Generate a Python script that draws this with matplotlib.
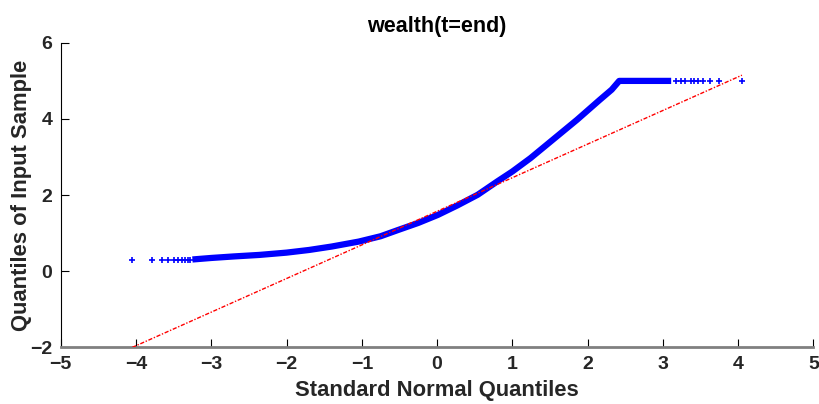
import numpy as np
import matplotlib
matplotlib.use("Agg")
import matplotlib.pyplot as plt

plt.rcParams['font.family'] = ['Liberation Sans', 'DejaVu Sans']
plt.rcParams['font.weight'] = 'bold'

# dense body of the sample quantiles
body_x = [-3.25, -3.0, -2.7, -2.36, -2.0, -1.70, -1.40, -1.04, -0.75, -0.51,
          -0.25, 0.01, 0.27, 0.54, 0.80, 1.0, 1.24, 1.59, 1.86, 2.16, 2.32, 2.42,
          2.7, 3.0, 3.11]
body_y = [0.31, 0.35, 0.39, 0.43, 0.49, 0.56, 0.65, 0.78, 0.92, 1.09,
          1.27, 1.48, 1.73, 2.01, 2.36, 2.62, 2.97, 3.54, 3.98, 4.50, 4.77, 5.0,
          5.0, 5.0, 5.0]

# sparse tail points
low_x = [-4.05, -3.79, -3.66, -3.57, -3.50, -3.44, -3.39, -3.35, -3.31, -3.28]
low_y = [0.29] * len(low_x)
high_x = [3.17, 3.24, 3.30, 3.37, 3.41, 3.47, 3.53, 3.62, 3.75, 4.05]
high_y = [5.0] * len(high_x)

# reference line through the quartiles, extended to the data range
ref_x = [-4.05, 4.05]
ref_y = [-2.0, 5.15]

fig = plt.figure(figsize=(8.2, 4.04), dpi=100)
ax = fig.add_axes([0.074, 0.14, 0.918, 0.754])

ax.plot(ref_x, ref_y, color='red', lw=1, ls=(0, (3, 1.2, 1, 1.2)), zorder=3)
ax.plot(body_x, body_y, color='blue', lw=4.5, solid_capstyle='butt', zorder=2)
ax.plot(low_x + high_x, low_y + high_y, ls='none', marker='+', color='blue',
        ms=4, mew=1.2, zorder=2)

ax.set_xlim(-5, 5)
ax.set_ylim(-2, 6)
ax.set_xticks(np.arange(-5, 6, 1))
ax.set_yticks([-2, 0, 2, 4, 6])
ax.spines['top'].set_visible(False)
ax.spines['right'].set_visible(False)
ax.spines['bottom'].set_color('#808080')
ax.spines['bottom'].set_linewidth(2)
ax.spines['left'].set_linewidth(0.8)
ax.tick_params(direction='in', length=6, labelsize=14, width=0.8, pad=6,
               labelcolor='#262626')
for lab in ax.get_xticklabels() + ax.get_yticklabels():
    lab.set_fontweight('bold')

ax.set_title('wealth(t=end)', fontsize=15.5, fontweight='bold', pad=8)
ax.set_xlabel('Standard Normal Quantiles', fontsize=15.8, fontweight='bold',
              color='#262626', labelpad=5)
ax.set_ylabel('Quantiles of Input Sample', fontsize=15.8, fontweight='bold',
              color='#262626', labelpad=-1)

fig.savefig('out.png', dpi=100)
